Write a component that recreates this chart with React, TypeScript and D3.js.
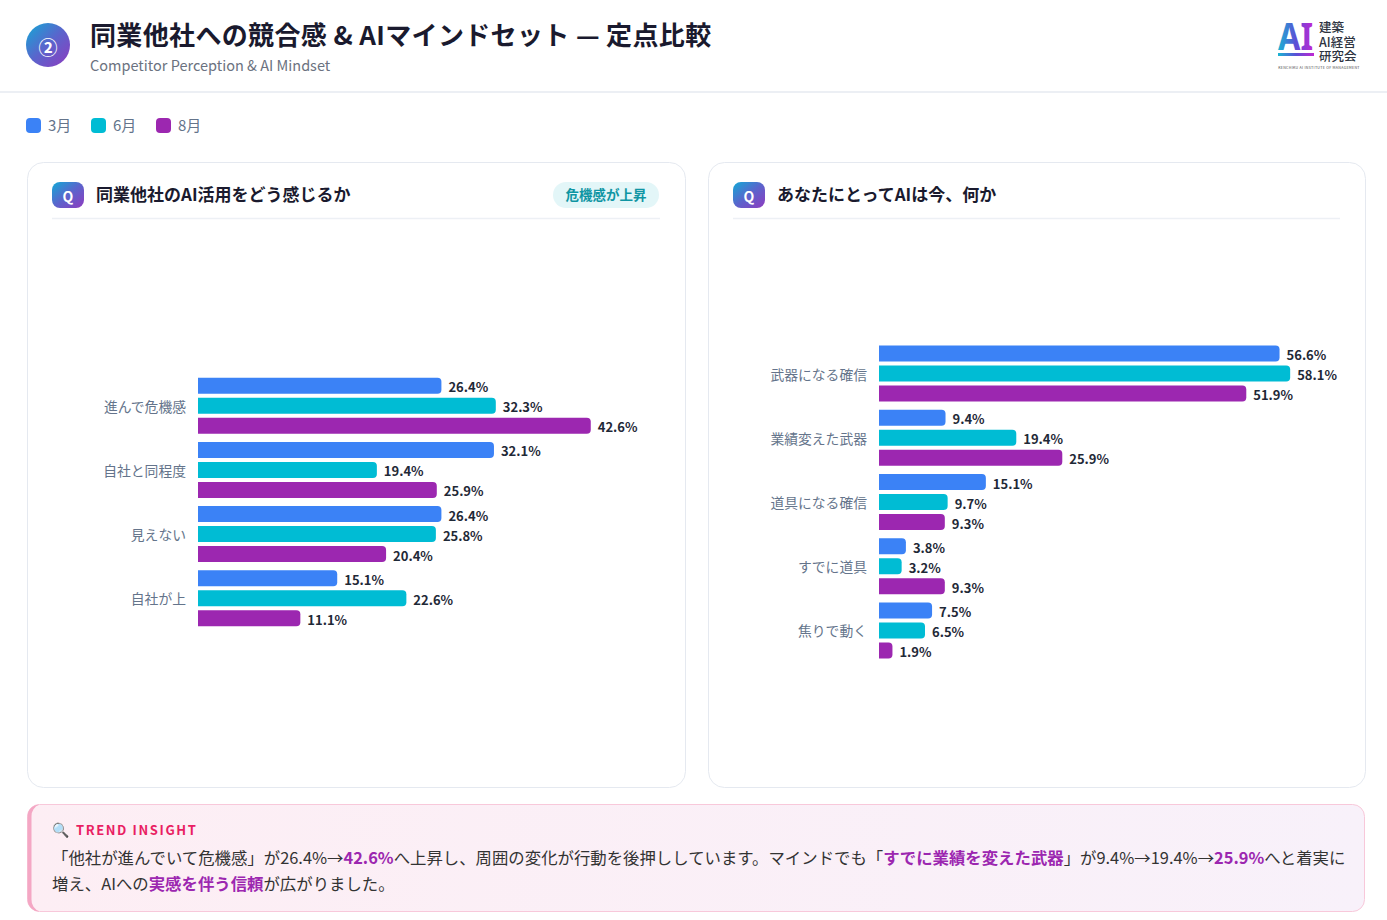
import React, { useEffect, useRef } from 'react'
import * as d3 from 'd3'

// --- data ---
const SERIES = ['3月', '6月', '8月']
const COLORS = ['#3b82f6', '#00bcd4', '#9c27b0']

const LEFT_CATS = ['進んで危機感', '自社と同程度', '見えない', '自社が上']
const LEFT_MAR = [26.4, 32.1, 26.4, 15.1]
const LEFT_JUN = [32.3, 19.4, 25.8, 22.6]
const LEFT_AUG = [42.6, 25.9, 20.4, 11.1]

const RIGHT_CATS = ['武器になる確信', '業績変えた武器', '道具になる確信', 'すでに道具', '焦りで動く']
const RIGHT_MAR = [56.6, 9.4, 15.1, 3.8, 7.5]
const RIGHT_JUN = [58.1, 19.4, 9.7, 3.2, 6.5]
const RIGHT_AUG = [51.9, 25.9, 9.3, 9.3, 1.9]

const FONT = '"Noto Sans CJK JP", "Noto Sans", sans-serif'
const W = 1387
const H = 920

type Panel = {
  x0: number
  x1: number
  title: string
  badge?: string
  cats: string[]
  values: number[][]
  max: number
  plotLeft: number
}

const PANELS: Panel[] = [
  { x0: 27, x1: 685, title: '同業他社のAI活用をどう感じるか', badge: '危機感が上昇', cats: LEFT_CATS, values: [LEFT_MAR, LEFT_JUN, LEFT_AUG], max: 50, plotLeft: 198 },
  { x0: 708, x1: 1365, title: 'あなたにとってAIは今、何か', cats: RIGHT_CATS, values: [RIGHT_MAR, RIGHT_JUN, RIGHT_AUG], max: 65, plotLeft: 879 },
]

function barPath(x: number, y: number, w: number, h: number, r: number) {
  const rr = Math.min(r, w / 2, h / 2)
  return `M${x},${y}H${x + w - rr}Q${x + w},${y} ${x + w},${y + rr}V${y + h - rr}Q${x + w},${y + h} ${x + w - rr},${y + h}H${x}Z`
}

export default function App() {
  const ref = useRef<SVGSVGElement>(null)

  useEffect(() => {
    if (!ref.current) return
    const svg = d3.select(ref.current)
    svg.selectAll('*').remove()
    svg.attr('width', W).attr('height', H).style('font-family', FONT)

    const defs = svg.append('defs')
    const grad = (id: string, stops: string[], x2 = '100%', y2 = '100%') => {
      const g = defs.append('linearGradient').attr('id', id)
        .attr('x1', '0%').attr('y1', '0%').attr('x2', x2).attr('y2', y2)
      stops.forEach((c, i) => g.append('stop')
        .attr('offset', `${(i / (stops.length - 1)) * 100}%`).attr('stop-color', c))
    }
    grad('badgeGrad', ['#12a9d6', '#5b64cc', '#8e3bbf'])
    grad('logoGrad', ['#19b5d2', '#5a50d6', '#c026d3'], '100%', '0%')
    grad('insightGrad', ['#fdeef4', '#f8f1fa'], '100%', '0%')

    svg.append('rect').attr('width', W).attr('height', H).attr('fill', '#ffffff')

    // header
    svg.append('circle').attr('cx', 48).attr('cy', 45).attr('r', 22).attr('fill', 'url(#badgeGrad)')
    svg.append('text').attr('x', 48).attr('y', 46).attr('text-anchor', 'middle')
      .attr('dominant-baseline', 'central').attr('fill', '#fff').attr('font-size', 19)
      .attr('font-weight', 700).text('②')
    svg.append('text').attr('x', 90).attr('y', 45).attr('font-size', 26).attr('font-weight', 700)
      .attr('letter-spacing', 0.35).attr('fill', '#1a1a2e').text('同業他社への競合感 & AIマインドセット — 定点比較')
    svg.append('text').attr('x', 90).attr('y', 71).attr('font-size', 14.5)
      .attr('fill', '#6b7280').text('Competitor Perception & AI Mindset')
    svg.append('line').attr('x1', 0).attr('x2', W).attr('y1', 92).attr('y2', 92)
      .attr('stroke', '#eceff4').attr('stroke-width', 2)

    // logo
    const logo = svg.append('g')
    logo.append('text').attr('x', 1278).attr('y', 50).attr('font-size', 38).attr('font-weight', 700)
      .attr('textLength', 35).attr('lengthAdjust', 'spacingAndGlyphs')
      .attr('fill', 'url(#logoGrad)').style('font-family', '"Noto Sans", sans-serif').text('AI')
    logo.append('rect').attr('x', 1278).attr('y', 53).attr('width', 36).attr('height', 3).attr('fill', 'url(#logoGrad)')
    ;['建築', 'AI経営', '研究会'].forEach((t, i) => {
      logo.append('text').attr('x', 1319).attr('y', 32 + i * 14.5).attr('font-size', 12.5)
        .attr('font-weight', 500).attr('fill', '#2d3340').text(t)
    })
    logo.append('text').attr('x', 1319).attr('y', 68.5).attr('text-anchor', 'middle')
      .attr('font-size', 3.6).attr('fill', '#444').attr('letter-spacing', 0.3)
      .text('KENCHIKU AI INSTITUTE OF MANAGEMENT')

    // legend
    let lx = 26
    SERIES.forEach((s, i) => {
      svg.append('rect').attr('x', lx).attr('y', 118).attr('width', 15).attr('height', 15).attr('rx', 4)
        .attr('fill', COLORS[i])
      svg.append('text').attr('x', lx + 22).attr('y', 131).attr('font-size', 15).attr('fill', '#64748b').text(s)
      lx += 65
    })

    // panels
    PANELS.forEach(p => {
      const g = svg.append('g')
      g.append('rect').attr('x', p.x0 + 0.5).attr('y', 162.5).attr('width', p.x1 - p.x0).attr('height', 625)
        .attr('rx', 16).attr('fill', '#fff').attr('stroke', '#e5e9f0')
      const ix0 = p.x0 + 25
      const ix1 = p.x1 - 25
      g.append('rect').attr('x', ix0).attr('y', 182).attr('width', 32).attr('height', 26).attr('rx', 8)
        .attr('fill', 'url(#badgeGrad)')
      g.append('text').attr('x', ix0 + 16).attr('y', 196).attr('text-anchor', 'middle')
        .attr('dominant-baseline', 'central').attr('font-size', 14).attr('font-weight', 700)
        .attr('fill', '#fff').text('Q')
      g.append('text').attr('x', ix0 + 44).attr('y', 201).attr('font-size', 17).attr('font-weight', 700)
        .attr('fill', '#1a1a2e').text(p.title)
      if (p.badge) {
        g.append('rect').attr('x', ix1 - 107).attr('y', 182).attr('width', 106).attr('height', 26).attr('rx', 13)
          .attr('fill', '#e3f6f8')
        g.append('text').attr('x', ix1 - 54).attr('y', 200).attr('text-anchor', 'middle')
          .attr('font-size', 13.5).attr('font-weight', 700).attr('fill', '#0f95a3').text(p.badge)
      }
      g.append('line').attr('x1', ix0).attr('x2', ix1).attr('y1', 218.5).attr('y2', 218.5)
        .attr('stroke', '#edf0f5').attr('stroke-width', 1.5)

      // chart
      const step = 64.2
      const center = 502
      const y = d3.scaleBand<string>().domain(p.cats)
        .range([center - (step * p.cats.length) / 2, center + (step * p.cats.length) / 2])
      const x = d3.scaleLinear().domain([0, p.max]).range([p.plotLeft, ix1 - 1])
      const inner = d3.scaleBand<string>().domain(SERIES).range([-28, 28]).paddingInner(0.2)

      p.cats.forEach((c, ci) => {
        const cy = (y(c) as number) + y.bandwidth() / 2
        g.append('text').attr('x', p.plotLeft - 12).attr('y', cy).attr('text-anchor', 'end')
          .attr('dominant-baseline', 'central').attr('font-size', 13.8).attr('fill', '#64748b').text(c)
        SERIES.forEach((s, si) => {
          const v = p.values[si][ci]
          const by = cy + (inner(s) as number)
          const bh = inner.bandwidth()
          g.append('path').attr('d', barPath(x(0), by, x(v) - x(0), bh, 4)).attr('fill', COLORS[si])
          g.append('text').attr('x', x(v) + 7).attr('y', by + bh / 2 + 1).attr('dominant-baseline', 'central')
            .attr('font-size', 13).attr('font-weight', 700).attr('fill', '#1f2937').text(`${v}%`)
        })
      })
    })

    // insight
    const ins = svg.append('g')
    ins.append('rect').attr('x', 27.5).attr('y', 804.5).attr('width', 1337).attr('height', 107).attr('rx', 12)
      .attr('fill', 'url(#insightGrad)').attr('stroke', '#f8c8da')
    ins.append('path').attr('d', 'M39.5,804.5 A12,12 0 0 0 27.5,816.5 V899.5 A12,12 0 0 0 39.5,911.5 A12,12 0 0 1 31.5,899.5 V816.5 A12,12 0 0 1 39.5,804.5 Z')
      .attr('fill', '#f4a7c4')
    ins.append('text').attr('x', 52).attr('y', 835).attr('font-size', 14).text('🔍')
    ins.append('text').attr('x', 76).attr('y', 835).attr('font-size', 13).attr('font-weight', 700)
      .attr('letter-spacing', 1.6).attr('fill', '#e91e63').text('TREND INSIGHT')

    const lines: [string, boolean][][] = [
      [['「他社が進んでいて危機感」が26.4%→', false], ['42.6%', true], ['へ上昇し、周囲の変化が行動を後押ししています。マインドでも「', false],
        ['すでに業績を変えた武器', true], ['」が9.4%→19.4%→', false], ['25.9%', true], ['へと着実に', false]],
      [['増え、AIへの', false], ['実感を伴う信頼', true], ['が広がりました。', false]],
    ]
    lines.forEach((ln, li) => {
      const t = ins.append('text').attr('x', 52).attr('y', 864 + li * 26).attr('font-size', 16.4).attr('fill', '#333')
      ln.forEach(([s, hl]) => {
        t.append('tspan').attr('font-weight', hl ? 700 : 400).attr('fill', hl ? '#9c27b0' : '#333').text(s)
      })
    })
  }, [])

  return (
    <div style={{ position: 'absolute', left: 0, top: 0, width: W, height: H, background: '#fff' }}>
      <svg ref={ref} />
    </div>
  )
}
